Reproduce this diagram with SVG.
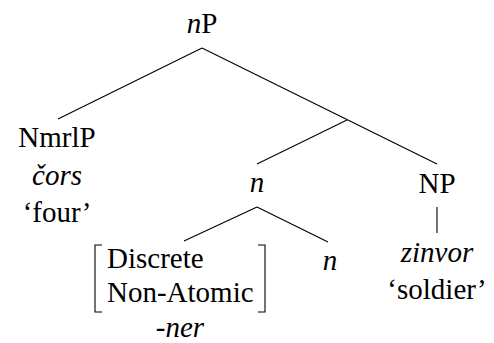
<svg xmlns="http://www.w3.org/2000/svg" width="494" height="343" viewBox="0 0 494 343">
<style>
text{font-size:29px;fill:#000;text-anchor:middle;font-family:"Liberation Serif","Times New Roman",serif}
.i{font-style:italic}
.l{text-anchor:start}
line,path{stroke:#000;stroke-width:1.1;fill:none}
</style>
<rect width="494" height="343" fill="#fff"/>
<g id="connectors">
<line x1="202" y1="48" x2="58" y2="119"/>
<line x1="202" y1="48" x2="437" y2="164"/>
<line x1="347" y1="120" x2="257" y2="164"/>
<line x1="257" y1="207" x2="184" y2="241"/>
<line x1="257" y1="207" x2="328" y2="242"/>
<line x1="437" y1="207" x2="437" y2="233"/>
</g>
<g id="nP"><text x="202" y="33"><tspan class="i">n</tspan>P</text></g>
<g id="NmrlP">
<text x="57" y="147">NmrlP</text>
<text x="57" y="185" class="i">čors</text>
<text x="57" y="222">‘four’</text>
</g>
<g id="n-mid"><text x="257" y="192" class="i">n</text></g>
<g id="NP">
<text x="437" y="193">NP</text>
<text x="437" y="262" class="i">zinvor</text>
<text x="437" y="299">‘soldier’</text>
</g>
<g id="features">
<path d="M102 245 H95 V312 H102"/>
<path d="M258 245 H265 V312 H258"/>
<text x="107" y="268" class="l">Discrete</text>
<text x="107" y="302" class="l">Non-Atomic</text>
<text x="180" y="337" class="i">-ner</text>
</g>
<g id="n-right"><text x="330" y="270" class="i">n</text></g>
</svg>
